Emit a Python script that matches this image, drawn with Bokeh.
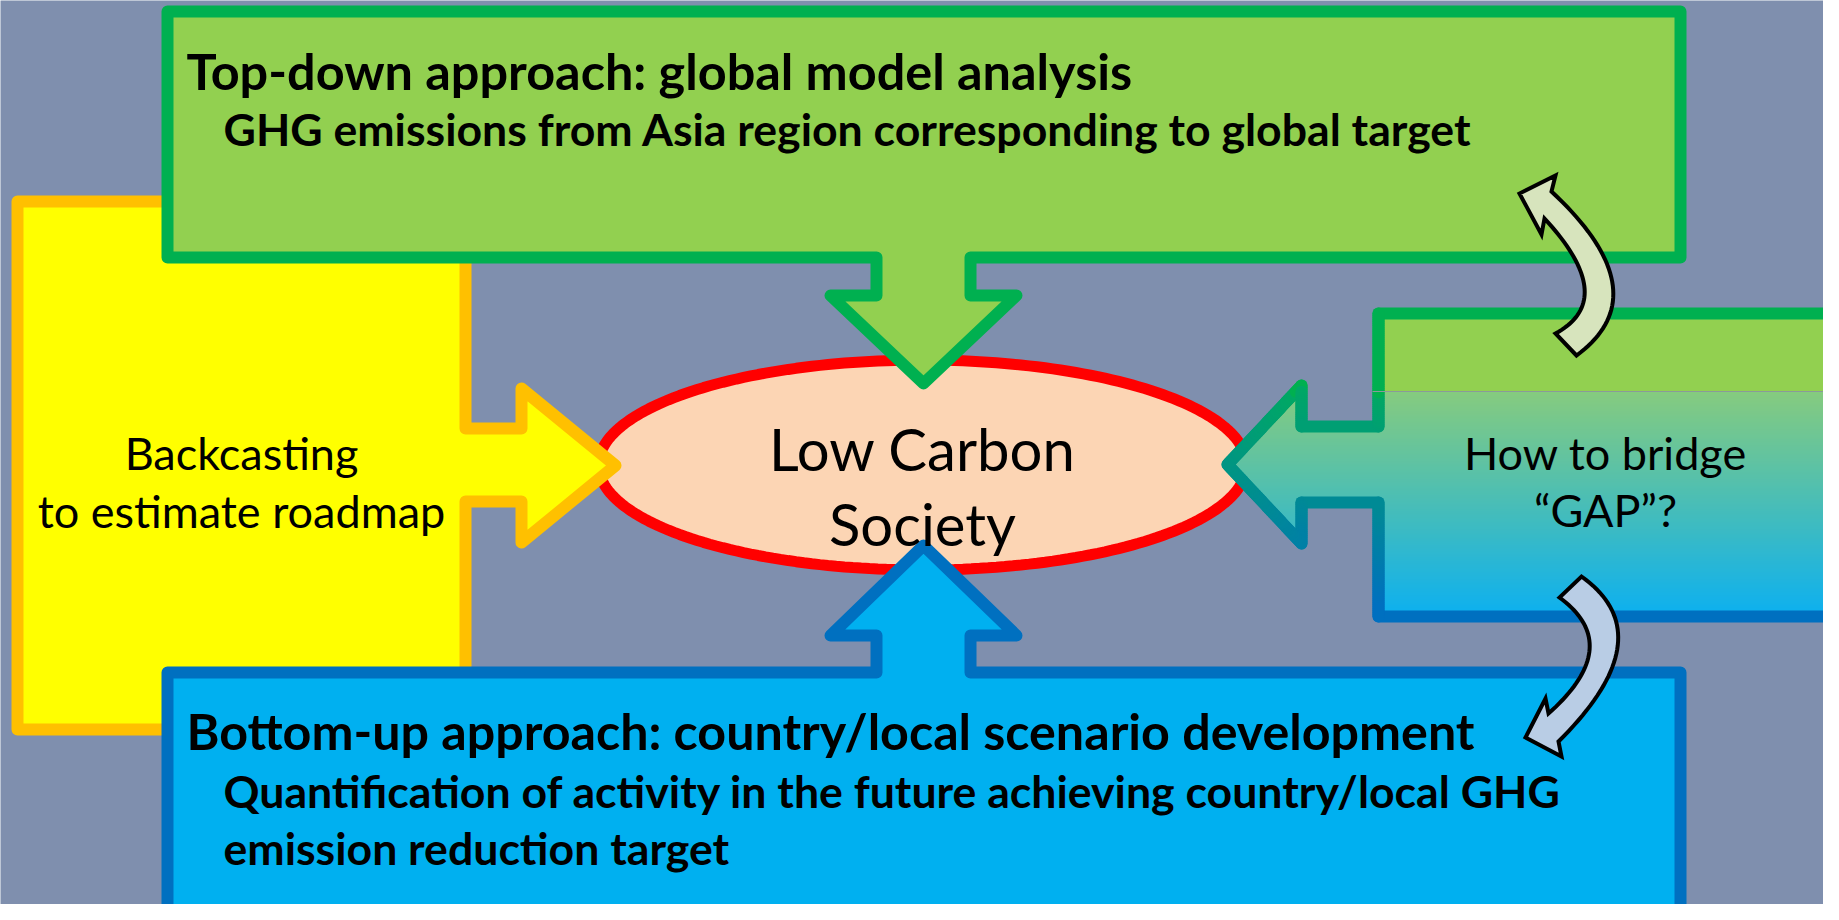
import numpy as np
from bokeh.plotting import figure
from bokeh.models import Range1d
from bokeh.core.properties import value
from bokeh.embed import file_html
from bokeh.resources import INLINE

# ---------------- data (reference pixel space, y grows downward) ----------------
BG = "#7f8fae"
FONT = "Lato"

yellow_x = [17, 465, 465, 521, 521, 615, 521, 521, 465, 465, 17]
yellow_y = [201, 201, 428, 428, 388, 465, 542, 501, 501, 729, 729]

green_x = [167, 1680, 1680, 970, 970, 1016, 923, 830, 876, 876, 167]
green_y = [11, 11, 257, 257, 295, 295, 383, 295, 295, 257, 257]

blue_x = [167, 167, 876, 876, 830, 923, 1016, 970, 970, 1680, 1680]
blue_y = [918, 672, 672, 635, 635, 545, 635, 635, 672, 672, 918]

right_x = [1378, 1831, 1831, 1378, 1378, 1301, 1301, 1227, 1301, 1301, 1378]
right_y = [313, 313, 616, 616, 502, 502, 543, 464, 385, 426, 426]

ellipse_center = [922, 464.5]
ellipse_radii = [324, 105]

# curved arrows: outer curve (start, mid, end), inner curve (start, mid, end), head points
up_outer = [[1551, 191], [1612, 283], [1576, 355]]
up_inner = [[1544, 218], [1584, 287], [1555, 333]]
up_head = [[1555, 175], [1519, 193], [1541, 234]]

down_outer = [[1581, 576], [1617, 647], [1558, 741]]
down_inner = [[1559, 597], [1589, 650], [1548, 713]]
down_head = [[1561, 756], [1525, 737], [1545, 698]]

top_lines = ["Top-down approach: global model analysis",
             "GHG emissions from Asia region corresponding to global target"]
top_pos = [[186, 70], [223, 128]]
bottom_lines = ["Bottom-up approach: country/local scenario development",
                "Quantification of activity in the future achieving country/local GHG",
                "emission reduction target"]
bottom_pos = [[186, 730], [223, 790], [223, 847]]
left_lines = ["Backcasting", "to estimate roadmap"]
left_pos = [[241, 452], [241, 510]]
center_lines = ["Low Carbon", "Society"]
center_pos = [[922, 448], [922, 523]]
right_lines = ["How to bridge", "\u201cGAP\u201d?"]
right_pos = [[1605, 452], [1605, 509]]

# ---------------- helpers ----------------
def hexcol(c):
    return "#%02x%02x%02x" % tuple(int(round(v)) for v in c)

def lerp(a, b, f):
    return [a[i] + (b[i] - a[i]) * f for i in range(3)]

def fill_col(y):
    if y < 391:
        return hexcol((146, 208, 80))
    f = min(1.0, (y - 391) / (616 - 391))
    return hexcol(lerp((134, 203, 126), (12, 176, 240), f))

def border_col(y):
    if y < 391:
        return hexcol((0, 176, 80))
    f = min(1.0, (y - 391) / (600 - 391))
    return hexcol(lerp((0, 168, 100), (0, 112, 192), f))

def scan(xs, ys, y):
    pts = []
    n = len(xs)
    for i in range(n):
        x1, y1 = xs[i], ys[i]
        x2, y2 = xs[(i + 1) % n], ys[(i + 1) % n]
        if y1 == y2:
            continue
        if min(y1, y2) <= y < max(y1, y2):
            pts.append(x1 + (y - y1) * (x2 - x1) / (y2 - y1))
    pts.sort()
    return list(zip(pts[0::2], pts[1::2]))

def qbez(p0, m, p2, n=40):
    p0, m, p2 = np.array(p0, float), np.array(m, float), np.array(p2, float)
    c = 2 * m - (p0 + p2) / 2
    t = np.linspace(0, 1, n)[:, None]
    pts = (1 - t) ** 2 * p0 + 2 * (1 - t) * t * c + t ** 2 * p2
    return pts

# ---------------- figure ----------------
p = figure(width=1823, height=904, x_range=Range1d(0, 1823), y_range=Range1d(904, 0),
           output_backend="svg", toolbar_location=None, min_border=0)
p.axis.visible = False
p.grid.visible = False
p.outline_line_color = None
p.background_fill_color = BG
p.border_fill_color = BG

# ellipse
th = np.linspace(0, 2 * np.pi, 240)
p.patch(ellipse_center[0] + ellipse_radii[0] * np.cos(th),
        ellipse_center[1] + ellipse_radii[1] * np.sin(th),
        fill_color="#fcd5b4", line_color="#ff0000", line_width=11)

# yellow
p.patch(yellow_x, yellow_y, fill_color="#ffff00", line_color="#ffc000",
        line_width=12, line_join="round")
# green
p.patch(green_x, green_y, fill_color="#92d050", line_color="#00b050",
        line_width=12, line_join="round")
# blue
p.patch(blue_x, blue_y, fill_color="#00b0f0", line_color="#0070c0",
        line_width=12, line_join="round")

# right gradient shape: fill via scan strips
step = 2.0
L, R, T, B, C = [], [], [], [], []
yy = min(right_y)
while yy < max(right_y):
    ym = yy + step / 2
    for a, b in scan(right_x, right_y, ym):
        L.append(a); R.append(b); T.append(yy); B.append(yy + step + 0.8)
        C.append(fill_col(ym))
    yy += step
p.quad(left=L, right=R, top=T, bottom=B, fill_color=C, line_color=None)

# gradient border
xs_seg, ys_seg, cs_seg = [], [], []
n = len(right_x)
for i in range(n):
    x1, y1 = right_x[i], right_y[i]
    x2, y2 = right_x[(i + 1) % n], right_y[(i + 1) % n]
    k = max(1, int(abs(y2 - y1) / 2))
    for j in range(k):
        f0, f1 = j / k, (j + 1) / k
        sx0, sy0 = x1 + (x2 - x1) * f0, y1 + (y2 - y1) * f0
        sx1, sy1 = x1 + (x2 - x1) * f1, y1 + (y2 - y1) * f1
        xs_seg.append([sx0, sx1]); ys_seg.append([sy0, sy1])
        cs_seg.append(border_col((sy0 + sy1) / 2))
p.multi_line(xs_seg, ys_seg, line_color=cs_seg, line_width=12, line_cap="round",
             line_join="round")

# faint gradient seam line (box only)
p.line([1372, 1837], [391, 391], line_color="#8a9a9a", line_width=1.2)

# curved arrows
uo = qbez(*up_outer)   # top -> bottom
ui = qbez(*up_inner)   # top -> bottom
up_poly = np.vstack([uo[:1], np.array(up_head), ui, uo[::-1]])
p.patch(up_poly[:, 0], up_poly[:, 1], fill_color="#d7e4bd", line_color="black",
        line_width=4, line_join="miter")

do = qbez(*down_outer)  # top -> bottom
di = qbez(*down_inner)  # top -> bottom
down_poly = np.vstack([do, np.array(down_head), di[::-1]])
p.patch(down_poly[:, 0], down_poly[:, 1], fill_color="#b9cde5", line_color="black",
        line_width=4, line_join="miter")

# texts
def put(lines, pos, size, bold=False, align="left"):
    p.text(x=[q[0] for q in pos], y=[q[1] for q in pos], text=lines,
           text_font=value(FONT), text_font_size=size,
           text_font_style="bold" if bold else "normal",
           text_align=align, text_baseline="alphabetic", text_color="black")

put(top_lines[:1], top_pos[:1], "50.4px", bold=True)
put(top_lines[1:], top_pos[1:], "44.6px", bold=True)
put(bottom_lines[:1], bottom_pos[:1], "50.2px", bold=True)
put(bottom_lines[1:], bottom_pos[1:], "44.6px", bold=True)
put(left_lines, left_pos, "45px", align="center")
put(center_lines, center_pos, "58px", align="center")
put(right_lines, right_pos, "45px", align="center")

open("out.html", "w").write(file_html(p, INLINE))
